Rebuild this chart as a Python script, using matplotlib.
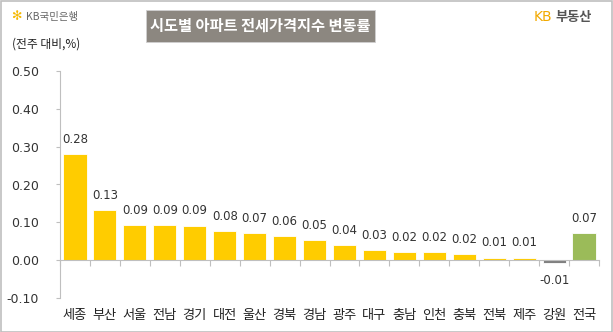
import numpy as np
import matplotlib
matplotlib.use('Agg')
import matplotlib.pyplot as plt
from matplotlib.patches import Rectangle

plt.rcParams['font.family'] = ['Noto Sans CJK KR', 'DejaVu Sans']

regions = ['세종', '부산', '서울', '전남', '경기', '대전', '울산', '경북', '경남',
           '광주', '대구', '충남', '인천', '충북', '전북', '제주', '강원', '전국']
values = [0.28, 0.132, 0.093, 0.092, 0.091, 0.077, 0.072, 0.063, 0.053,
          0.039, 0.027, 0.022, 0.021, 0.015, 0.007, 0.007, -0.008, 0.071]
labels = ['0.28', '0.13', '0.09', '0.09', '0.09', '0.08', '0.07', '0.06', '0.05',
          '0.04', '0.03', '0.02', '0.02', '0.02', '0.01', '0.01', '-0.01', '0.07']
yticks = [-0.10, 0.00, 0.10, 0.20, 0.30, 0.40, 0.50]

colors = []
for r, v in zip(regions, values):
    if r == '전국':
        colors.append('#9BBB59')
    elif v < 0:
        colors.append('#808080')
    else:
        colors.append('#FFCC00')

fig = plt.figure(figsize=(6.13, 3.32), dpi=100)
ax = fig.add_axes([60/613, 34/332, 539/613, 227/332])

x = np.arange(len(regions))
ax.bar(x, values, width=0.77, color=colors, edgecolor='white', linewidth=0.6, zorder=2)

for xi, v, lab in zip(x, values, labels):
    if v >= 0:
        ax.annotate(lab, (xi, v), xytext=(0, 6), textcoords='offset points',
                    ha='center', va='bottom', fontsize=8.5, color='#333333',
                    family='DejaVu Sans')
    else:
        ax.annotate(lab, (xi, v), xytext=(0, -8), textcoords='offset points',
                    ha='center', va='top', fontsize=8.5, color='#333333',
                    family='DejaVu Sans')

ax.set_xlim(-0.5, len(regions) - 0.5)
ax.set_ylim(-0.10, 0.50)
ax.set_yticks(yticks)
ax.set_yticklabels(['%.2f' % t for t in yticks], family='DejaVu Sans')
ax.tick_params(axis='y', length=3, width=0.8, color='#BFBFBF', labelsize=9,
               labelcolor='#333333', pad=12)

ax.spines['top'].set_visible(False)
ax.spines['right'].set_visible(False)
ax.spines['left'].set_color('#BFBFBF')
ax.spines['bottom'].set_color('#BFBFBF')
ax.spines['bottom'].set_position(('data', 0))

ax.set_xticks(x)
ax.set_xticklabels(regions)
ax.tick_params(axis='x', which='major', length=0, labelsize=9.5,
               labelcolor='#222222', pad=35)
ax.set_xticks(np.arange(len(regions) + 1) - 0.5, minor=True)
ax.tick_params(axis='x', which='minor', length=4, color='#BFBFBF', width=0.8)

# header
fig.patches.append(Rectangle((146/613, 1 - 42/332), 229/613, 32/332,
                             transform=fig.transFigure, facecolor='#8C8780',
                             edgecolor='#D0D0D0', linewidth=0.6))
fig.text(260.5/613, 1 - 26/332, '시도별 아파트 전세가격지수 변동률', ha='center', va='center',
         fontsize=11, color='white', fontweight='bold')
fig.text(12/613, 1 - 44/332, '(전주 대비,%)', ha='left', va='center', fontsize=8.5,
         color='#222222')
fig.text(11/613, 1 - 17/332, '✻', ha='left', va='center', fontsize=9,
         color='#F5B800', family='DejaVu Sans')
fig.text(26/613, 1 - 17/332, 'KB국민은행', ha='left', va='center', fontsize=7.5,
         color='#666666')
fig.text(534/613, 1 - 17/332, 'KB', ha='left', va='center', fontsize=10,
         color='#F2A900', family='DejaVu Sans')
fig.text(555/613, 1 - 17/332, '부동산', ha='left', va='center', fontsize=9.5,
         color='#555555', fontweight='bold')

fig.patches.append(Rectangle((0.5/613, 0.5/332), 611.5/613, 330.5/332,
                             transform=fig.transFigure, fill=False,
                             edgecolor='#BFBFBF', linewidth=1.2))

fig.savefig('out.png', dpi=100)
